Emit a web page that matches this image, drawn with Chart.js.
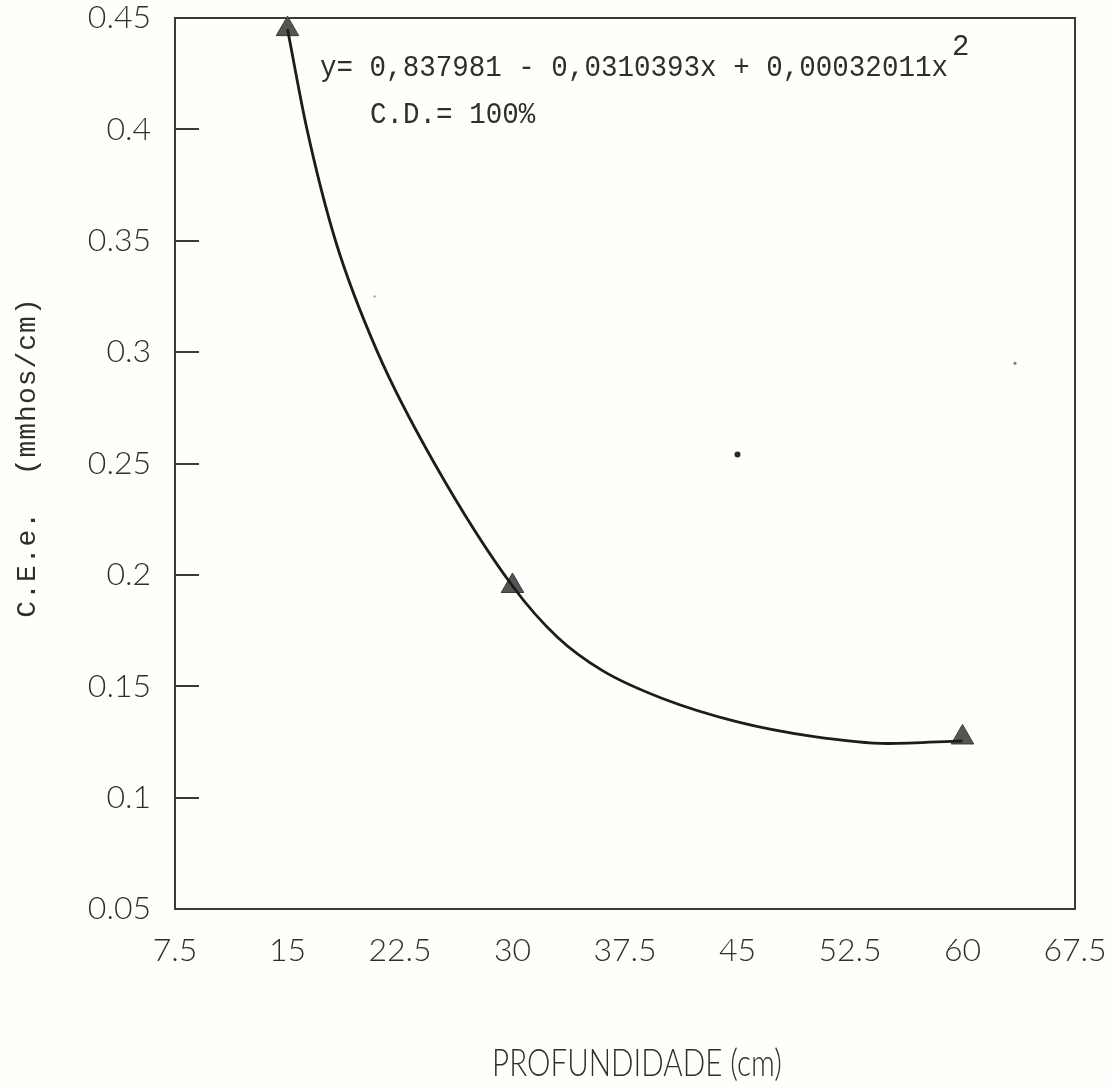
<!DOCTYPE html>
<html><head><meta charset="utf-8">
<script src="https://cdn.jsdelivr.net/npm/chart.js@4.4.1/dist/chart.umd.min.js"></script>
<style>html,body{margin:0;padding:0;background:#fefefa;}#wrap{width:1114px;height:1086px;}</style>
</head><body><div id="wrap"><canvas id="c" width="1114" height="1086"></canvas></div>
<script>
// Measured data points (depth in cm, C.E.e. in mmhos/cm)
const depths = [15, 30, 60];
const ceeValues = [0.445, 0.195, 0.127];
// Fitted curve as drawn in the figure
const curveX = [15, 16.3, 18.2, 21.0, 24.8, 30, 33, 36, 40, 45, 50, 55, 60];
const curveY = [0.445, 0.400, 0.350, 0.300, 0.250, 0.195, 0.172, 0.157, 0.1445, 0.134, 0.1275, 0.1243, 0.1255];
// Specks visible in the figure
const strayX = [45, 20.8, 63.5];
const strayY = [0.254, 0.325, 0.295];
// Axis ticks
const xTicks = [7.5, 15, 22.5, 30, 37.5, 45, 52.5, 60, 67.5];
const xTickLabels = ['7.5', '15', '22.5', '30', '37.5', '45', '52.5', '60', '67.5'];
const yTicks = [0.05, 0.1, 0.15, 0.2, 0.25, 0.3, 0.35, 0.4, 0.45];
const yTickLabels = ['0.05', '0.1', '0.15', '0.2', '0.25', '0.3', '0.35', '0.4', '0.45'];
const eqLine1 = 'y= 0,837981 - 0,0310393x + 0,00032011x';
const eqSup = '2';
const eqLine2 = 'C.D.= 100%';
const xTitle = 'PROFUNDIDADE (cm)';
const yTitle = 'C.E.e.  (mmhos/cm)';

const INK = '#2e2e2e';
const tickFont = {family: 'Lato', size: 32, weight: '300'};

const framePlugin = {
  id: 'frame',
  beforeDatasetsDraw(chart) {
    const {ctx, chartArea: a, scales: {y}} = chart;
    ctx.save();
    ctx.strokeStyle = '#3a3a3a';
    ctx.lineWidth = 2;
    ctx.strokeRect(a.left, a.top, a.right - a.left, a.bottom - a.top);
    yTicks.forEach(v => {
      const py = Math.round(y.getPixelForValue(v));
      ctx.beginPath();
      ctx.moveTo(a.left, py);
      ctx.lineTo(a.left + 24, py);
      ctx.stroke();
    });
    ctx.restore();
  },
  afterDraw(chart) {
    const {ctx, chartArea: a} = chart;
    ctx.save();
    ctx.fillStyle = INK;
    ctx.textBaseline = 'middle';
    // equation
    ctx.font = '29px "Liberation Mono"';
    const w1 = ctx.measureText(eqLine1).width;
    const target = 628;
    const sx = target / w1;
    ctx.save();
    ctx.translate(320, 68);
    ctx.scale(sx, 1);
    ctx.fillText(eqLine1, 0, 0);
    ctx.restore();
    ctx.fillText(eqSup, 320 + target + 4, 47);
    ctx.save();
    ctx.translate(370, 115);
    ctx.scale(sx, 1);
    ctx.fillText(eqLine2, 0, 0);
    ctx.restore();
    // x axis title (thin condensed)
    ctx.font = '300 37px Lato';
    ctx.textAlign = 'center';
    ctx.save();
    ctx.translate((a.left + a.right) / 2 + 12, 1064);
    ctx.scale(0.8, 1);
    ctx.fillText(xTitle, 0, 0);
    ctx.restore();
    // y axis title (rotated, spaced monospace)
    ctx.font = '28px "Liberation Mono"';
    ctx.letterSpacing = '1px';
    ctx.save();
    ctx.translate(28, (a.top + a.bottom) / 2 - 6);
    ctx.rotate(-Math.PI / 2);
    ctx.fillText(yTitle, 0, 0);
    ctx.restore();
    ctx.restore();
  }
};

new Chart(document.getElementById('c'), {
  type: 'scatter',
  data: {
    datasets: [
      {
        label: 'curve',
        data: curveX.map((x, i) => ({x, y: curveY[i]})),
        showLine: true,
        cubicInterpolationMode: 'monotone',
        borderColor: '#1c1c1c',
        borderWidth: 2.8,
        pointRadius: 0,
        clip: false
      },
      {
        label: 'C.E.e.',
        data: depths.map((x, i) => ({x, y: ceeValues[i]})),
        pointStyle: 'triangle',
        pointRadius: 13,
        backgroundColor: '#555555',
        borderColor: '#3a3a3a',
        borderWidth: 1,
        clip: false
      },
      {
        label: 'specks',
        data: strayX.map((x, i) => ({x, y: strayY[i]})),
        pointRadius: [3, 1.2, 1.5],
        backgroundColor: ['#2a2a2a', '#aaaaaa', '#777777'],
        borderWidth: 0,
        clip: false
      }
    ]
  },
  options: {
    responsive: false,
    animation: false,
    devicePixelRatio: 1,
    layout: {padding: {top: 18, right: 39, left: 0, bottom: 0}},
    plugins: {legend: {display: false}, tooltip: {enabled: false}},
    scales: {
      x: {
        type: 'linear', min: 7.5, max: 67.5,
        afterBuildTicks: s => { s.ticks = xTicks.map(v => ({value: v})); },
        afterFit: s => { s.height = 177; s.paddingLeft = 0; s.paddingRight = 0; },
        grid: {display: false},
        border: {display: false},
        ticks: {
          callback: (v, i) => xTickLabels[i],
          font: tickFont, color: INK, padding: 14, maxRotation: 0, autoSkip: false
        },
        title: {display: false}
      },
      y: {
        type: 'linear', min: 0.05, max: 0.45,
        afterBuildTicks: s => { s.ticks = yTicks.map(v => ({value: v})); },
        afterFit: s => { s.width = 175; s.paddingTop = 0; s.paddingBottom = 0; },
        grid: {display: false},
        border: {display: false},
        ticks: {
          callback: (v, i) => yTickLabels[i],
          font: tickFont, color: INK, padding: 16, autoSkip: false
        },
        title: {display: false}
      }
    }
  },
  plugins: [framePlugin]
});
</script>
</body></html>
